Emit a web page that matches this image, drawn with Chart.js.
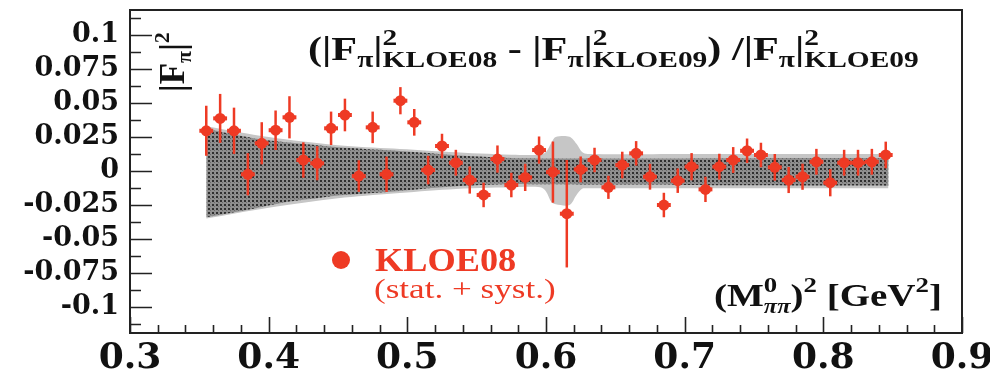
<!DOCTYPE html>
<html>
<head>
<meta charset="utf-8">
<script src="https://cdn.jsdelivr.net/npm/chart.js@4/dist/chart.umd.min.js"></script>
<style>
html,body{margin:0;padding:0;background:#fff;}
#wrap{width:990px;height:376px;}
</style>
</head>
<body>
<div id="wrap"><canvas id="c" width="990" height="376"></canvas></div>
<script>
// ---- data ----
const xTickValues = [0.3, 0.4, 0.5, 0.6, 0.7, 0.8, 0.9];
const yTickValues = [-0.1, -0.075, -0.05, -0.025, 0, 0.025, 0.05, 0.075, 0.1];

const massSq = [0.355,0.365,0.375,0.385,0.395,0.405,0.415,0.425,0.435,0.445,
                0.455,0.465,0.475,0.485,0.495,0.505,0.515,0.525,0.535,0.545,
                0.555,0.565,0.575,0.585,0.595,0.605,0.615,0.625,0.635,0.645,
                0.655,0.665,0.675,0.685,0.695,0.705,0.715,0.725,0.735,0.745,
                0.755,0.765,0.775,0.785,0.795,0.805,0.815,0.825,0.835,0.845];
const relDiff = [0.0296,0.0387,0.0296,-0.0024,0.0204,0.0300,0.0395,0.0081,0.0057,0.0314,
                 0.0412,-0.0037,0.0321,-0.0024,0.0517,0.0358,0.0007,0.0184,0.0061,-0.0066,
                 -0.0176,0.0088,-0.0103,-0.0047,0.0154,-0.0008,-0.0314,0.0012,0.0081,-0.0120,
                 0.0044,0.0130,-0.0042,-0.0250,-0.0071,0.0032,-0.0135,0.0032,0.0081,0.0149,
                 0.0118,0.0027,-0.0066,-0.0042,0.0068,-0.0086,0.0061,0.0061,0.0068,0.0118];
const relErr = [0.0184,0.0180,0.0170,0.0155,0.0155,0.0145,0.0155,0.0130,0.0125,0.0123,
                0.0120,0.0116,0.0116,0.0130,0.0100,0.0098,0.0105,0.0090,0.0095,0.0100,
                0.0090,0.0100,0.0090,0.0100,0.0100,0.0225,0.0395,0.0095,0.0090,0.0085,
                0.0098,0.0090,0.0095,0.0090,0.0090,0.0100,0.0093,0.0095,0.0095,0.0090,
                0.0090,0.0098,0.0096,0.0096,0.0095,0.0100,0.0095,0.0095,0.0095,0.0098];
const binHalfWidth = 0.005;

// KLOE09 error band (inner, dark)
const darkX  = [0.355,0.39,0.415,0.435,0.45,0.49,0.53,0.575,0.60,0.65,0.70,0.75,0.80,0.847];
const darkHi = [0.031,0.024,0.021,0.019,0.0175,0.0150,0.0120,0.0095,0.0092,0.0092,0.0093,0.0094,0.0095,0.0096];
const darkLo = [-0.034,-0.0275,-0.0225,-0.0200,-0.0180,-0.0150,-0.0115,-0.0095,-0.0098,-0.0100,-0.0102,-0.0105,-0.0107,-0.0108];
// outer, light band
const lightX  = [0.355,0.40,0.45,0.49,0.53,0.575,0.596,0.600,0.604,0.607,0.617,0.622,0.626,0.630,0.70,0.80,0.847];
const lightHi = [0.033,0.025,0.019,0.0165,0.0140,0.0120,0.0120,0.0140,0.0210,0.0250,0.0252,0.0200,0.0140,0.0125,0.0125,0.0125,0.0125];
const lightLo = [-0.035,-0.027,-0.020,-0.0165,-0.0135,-0.0120,-0.0120,-0.0150,-0.0230,-0.0245,-0.0250,-0.0176,-0.0130,-0.0127,-0.0127,-0.0127,-0.0127];

// ---- styles ----
const RED = '#ee3a24';
const canvas = document.getElementById('c');
const ctx0 = canvas.getContext('2d');
function makePattern(){
  const p = document.createElement('canvas'); p.width = 4; p.height = 4;
  const g = p.getContext('2d');
  g.fillStyle = '#8f8f8f'; g.fillRect(0,0,4,4);
  g.fillStyle = '#303030'; g.fillRect(0,0,2,2);
  g.fillStyle = '#6a6a6a'; g.fillRect(2,2,1,1);
  return ctx0.createPattern(p,'repeat');
}
const darkPattern = makePattern();

function fontStr(seg){
  return (seg.italic?'italic ':'') + (seg.bold===false?'':'bold ') + seg.s + 'px "Liberation Serif"';
}
function drawRich(ctx, x, y, segs, sx, color, rot){
  ctx.save();
  ctx.translate(x, y);
  if (rot) ctx.rotate(rot);
  ctx.scale(sx, 1);
  ctx.fillStyle = color;
  ctx.textBaseline = 'alphabetic';
  ctx.textAlign = 'left';
  let cx = 0;
  for (const seg of segs){
    if (seg.stack){
      let w = 0;
      for (const part of seg.stack){
        ctx.font = fontStr(part);
        ctx.fillText(part.t, cx, part.dy||0);
        w = Math.max(w, ctx.measureText(part.t).width);
      }
      cx += w;
    } else {
      ctx.font = fontStr(seg);
      ctx.fillText(seg.t, cx, seg.dy||0);
      cx += ctx.measureText(seg.t).width;
    }
  }
  ctx.restore();
}

function ffGroup(sub){
  return [
    {t:'|F', s:33},
    {t:'\u03c0', s:23, dy:7},
    {t:'|', s:33},
    {stack:[{t:'2', s:23, dy:-15},{t:sub, s:23, dy:7}]}
  ];
}
const titleSegs = [].concat(
  [{t:'(', s:33}], ffGroup('KLOE08'),
  [{t:' - ', s:33}], ffGroup('KLOE09'),
  [{t:') /', s:33}], ffGroup('KLOE09')
);
const xTitleSegs = [
  {t:'(M', s:32},
  {stack:[{t:'0', s:22, dy:-14},{t:'\u03c0\u03c0', s:20, dy:7, italic:true}]},
  {t:')', s:32},
  {t:'2', s:22, dy:-14},
  {t:' [GeV', s:32},
  {t:'2', s:22, dy:-14},
  {t:']', s:32}
];
const yTitleSegs = [
  {t:'|F', s:35},
  {t:'\u03c0', s:22, dy:7},
  {t:'|', s:35},
  {t:'2', s:22, dy:-15}
];

const decor = {
  id: 'decor',
  afterDatasetsDraw(chart){
    const ctx = chart.ctx;
    const xs = chart.scales.x, ys = chart.scales.y;
    ctx.save();
    ctx.strokeStyle = RED;
    for (let i = 0; i < massSq.length; i++){
      const px = xs.getPixelForValue(massSq[i]);
      const py = ys.getPixelForValue(relDiff[i]);
      const yt = ys.getPixelForValue(relDiff[i] + relErr[i]);
      const yb = ys.getPixelForValue(relDiff[i] - relErr[i]);
      ctx.lineWidth = 2.5;
      ctx.beginPath(); ctx.moveTo(px, yt); ctx.lineTo(px, yb); ctx.stroke();
      ctx.lineWidth = 4;
      ctx.beginPath();
      ctx.moveTo(xs.getPixelForValue(massSq[i]-binHalfWidth), py);
      ctx.lineTo(xs.getPixelForValue(massSq[i]+binHalfWidth), py);
      ctx.stroke();
    }
    ctx.restore();
  },
  afterDraw(chart){
    const ctx = chart.ctx;
    const a = chart.chartArea;
    const xs = chart.scales.x, ys = chart.scales.y;
    ctx.save();
    ctx.strokeStyle = '#222';
    ctx.lineWidth = 1.6;
    ctx.beginPath();
    for (let k = 0; k <= 30; k++){
      const v = 0.3 + k*0.02;
      const px = Math.round(xs.getPixelForValue(v)) + 0.5;
      const len = (k % 5 === 0) ? 16 : 8;
      ctx.moveTo(px, a.bottom); ctx.lineTo(px, a.bottom - len);
    }
    for (let k = -9; k <= 9; k++){
      const v = k*0.0125;
      const py = Math.round(ys.getPixelForValue(v)) + 0.5;
      const len = (k % 2 === 0) ? 22 : 11;
      ctx.moveTo(a.left, py); ctx.lineTo(a.left + len, py);
    }
    ctx.stroke();
    // frame
    ctx.lineWidth = 2;
    ctx.beginPath();
    ctx.moveTo(a.left, a.top); ctx.lineTo(a.right, a.top);
    ctx.lineTo(a.right, a.bottom); ctx.lineTo(a.left, a.bottom);
    ctx.closePath();
    ctx.stroke();
    ctx.restore();

    // texts
    drawRich(ctx, 308, 60, titleSegs, 1.28, '#111');
    drawRich(ctx, 714, 306, xTitleSegs, 1.22, '#111');
    drawRich(ctx, 184, 92, yTitleSegs, 1.0, '#111', -Math.PI/2);
    // legend
    ctx.save();
    ctx.fillStyle = RED;
    ctx.beginPath(); ctx.arc(341, 260, 9, 0, Math.PI*2); ctx.fill();
    ctx.restore();
    drawRich(ctx, 375, 271, [{t:'KLOE08', s:33}], 1.1, RED);
    drawRich(ctx, 374, 298, [{t:'(stat. + syst.)', s:27, bold:false}], 1.3, RED);
  }
};

new Chart(canvas, {
  type: 'line',
  data: {
    datasets: [
      { label:'KLOE08', data: massSq.map((x,i)=>({x:x, y:relDiff[i]})),
        showLine:false, pointRadius:5.5, pointBackgroundColor:RED, pointBorderWidth:0, borderColor:RED },
      { label:'darkLo', data: darkX.map((x,i)=>({x:x, y:darkLo[i]})),
        pointRadius:0, borderWidth:0, fill:false, tension:0.3 },
      { label:'darkHi', data: darkX.map((x,i)=>({x:x, y:darkHi[i]})),
        pointRadius:0, borderWidth:0, fill:1, backgroundColor:darkPattern, tension:0.3 },
      { label:'lightLo', data: lightX.map((x,i)=>({x:x, y:lightLo[i]})),
        pointRadius:0, borderWidth:0, fill:false, tension:0.3 },
      { label:'lightHi', data: lightX.map((x,i)=>({x:x, y:lightHi[i]})),
        pointRadius:0, borderWidth:0, fill:3, backgroundColor:'#c6c6c6', tension:0.3 }
    ]
  },
  options: {
    responsive:false,
    animation:false,
    devicePixelRatio:1,
    layout:{ autoPadding:false, padding:{ top:10, right:28, left:0, bottom:0 } },
    plugins:{ legend:{display:false}, tooltip:{enabled:false}, title:{display:false} },
    scales:{
      x:{
        type:'linear', min:0.3, max:0.9,
        afterBuildTicks: s => { s.ticks = xTickValues.map(v=>({value:v})); },
        afterFit: s => { s.height = 43; s.paddingLeft = 0; s.paddingRight = 0; },
        grid:{ display:false, drawTicks:false },
        border:{ display:false },
        ticks:{ font:{ family:'"DejaVu Serif"', weight:'bold', size:36 }, color:'#111',
                padding:4, maxRotation:0, autoSkip:false,
                callback: v => v.toFixed(1) }
      },
      y:{
        type:'linear', min:-0.1191, max:0.1184,
        afterBuildTicks: s => { s.ticks = yTickValues.map(v=>({value:v})); },
        afterFit: s => { s.width = 130; s.paddingTop = 0; s.paddingBottom = 0; },
        grid:{ display:false, drawTicks:false },
        border:{ display:false },
        ticks:{ font:{ family:'"DejaVu Serif"', weight:'bold', size:27 }, color:'#111',
                padding:11, autoSkip:false,
                callback: v => (Math.abs(v) < 1e-9 ? '0' : String(+v.toFixed(3))) }
      }
    }
  },
  plugins:[decor]
});
</script>
</body>
</html>
